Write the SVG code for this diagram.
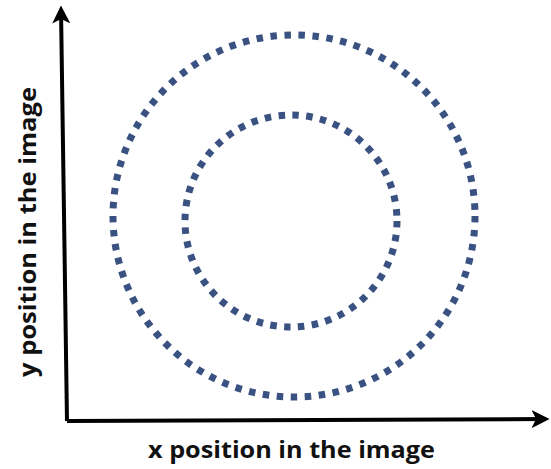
<svg xmlns="http://www.w3.org/2000/svg" width="551" height="469" viewBox="0 0 551 469">
<style>
.axis{fill:none;stroke:#000;stroke-width:4;stroke-linejoin:miter}
.ring{fill:none;stroke:#3a5282;stroke-width:7}
.lbl{font-family:"Open Sans","Liberation Sans",sans-serif;font-weight:bold;font-size:23px;fill:#111}
</style>
<defs>
<marker id="ah" viewBox="0 0 10 10" refX="8" refY="5" markerWidth="4.5" markerHeight="4.5" orient="auto" markerUnits="strokeWidth">
<path d="M0,0 L10,5 L0,10 L2.5,5 Z" fill="#000"/>
</marker>
</defs>
<g id="connectors">
<path class="axis" d="M67,421 L61,9" marker-end="url(#ah)"/>
<path class="axis" d="M67,421 L546,419" marker-end="url(#ah)"/>
</g>
<g id="outer-circle">
<circle class="ring" cx="294" cy="216" r="181" stroke-dasharray="6.5 7.55"/>
</g>
<g id="inner-circle">
<circle class="ring" cx="291" cy="221" r="106" stroke-dasharray="6.5 7.4"/>
</g>
<g id="x-label">
<text class="lbl" x="148" y="458" textLength="287" lengthAdjust="spacingAndGlyphs">x position in the image</text>
</g>
<g id="y-label">
<text class="lbl" transform="translate(36,377) rotate(-90)" x="0" y="0" textLength="290" lengthAdjust="spacingAndGlyphs">y position in the image</text>
</g>
</svg>
